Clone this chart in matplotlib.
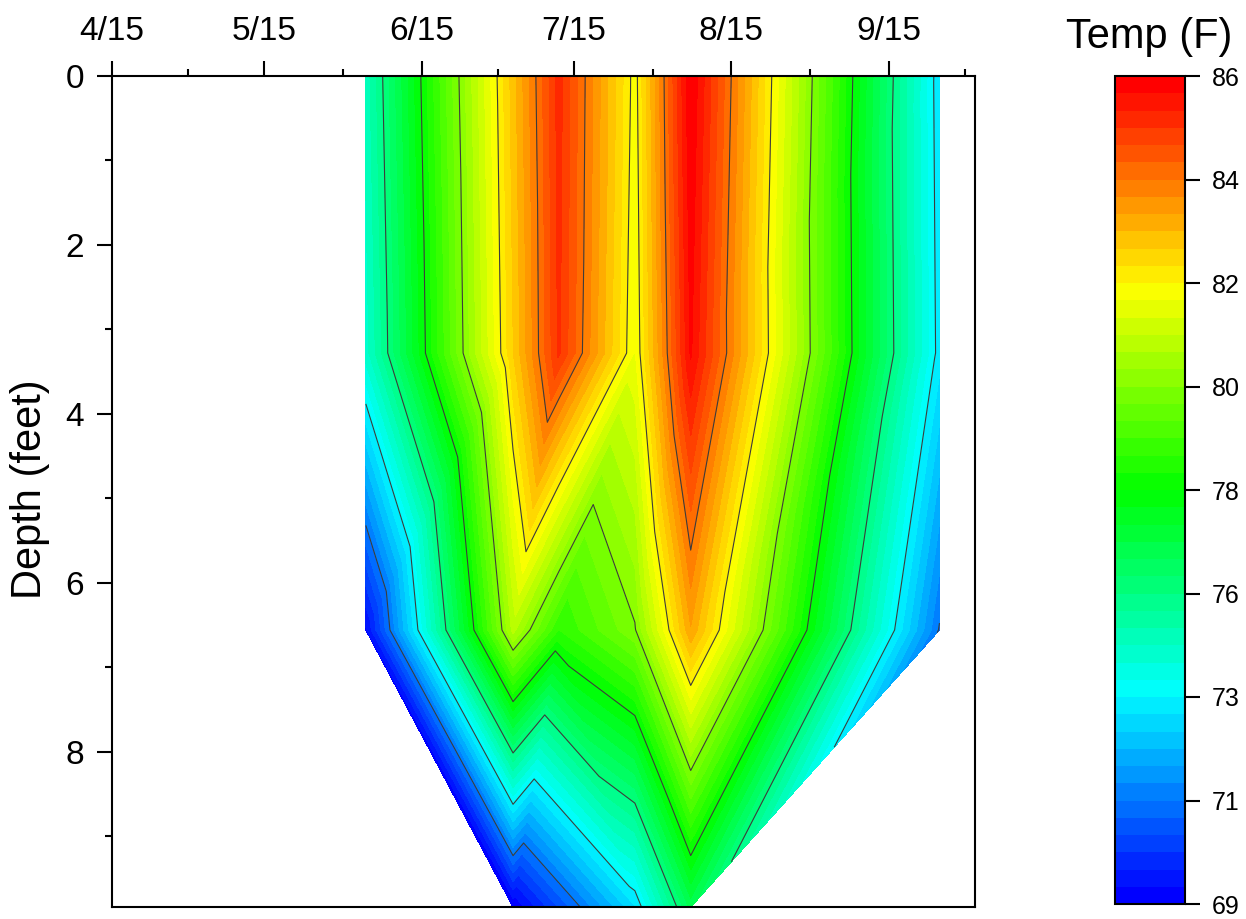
import datetime as dt

import numpy as np
import matplotlib
matplotlib.use("Agg")
import matplotlib.pyplot as plt
import matplotlib.tri as mtri
import matplotlib.dates as mdates
from matplotlib.colors import LinearSegmentedColormap
from matplotlib.ticker import FixedLocator, FuncFormatter, MultipleLocator

plt.rcParams['font.family'] = ['Liberation Sans', 'DejaVu Sans']

# profile dates and reading depths (1 m steps, in feet)
sample_dates = ['2021-06-04', '2021-07-03', '2021-07-12', '2021-07-27', '2021-08-07', '2021-09-25']
depths_ft = [0.0, 3.28, 6.56, 9.84]

# water temperature (F) per depth, one value per profile date (nan = no reading)
temp_0ft = [74.6, 82.9, 85.4, 81.8, 86.3, 73.1]
temp_3ft = [74.3, 82.7, 85.3, 81.6, 86.0, 73.2]
temp_6ft = [69.4, 80.7, 78.4, 79.8, 83.4, 71.2]
temp_9ft = [np.nan, 69.1, np.nan, 73.0, 76.4, np.nan]

tick_dates = ['2021-04-15', '2021-05-15', '2021-06-15', '2021-07-15', '2021-08-15', '2021-09-15', '2021-10-15']

date_nums = [mdates.date2num(dt.datetime.fromisoformat(d)) for d in sample_dates]
rows = [temp_0ft, temp_3ft, temp_6ft, temp_9ft]

xs, ys, zs, idx = [], [], [], {}
for r, (depth, row) in enumerate(zip(depths_ft, rows)):
    for c, (day, t) in enumerate(zip(date_nums, row)):
        if np.isnan(t):
            continue
        idx[(c, r)] = len(zs)
        xs.append(day)
        ys.append(depth)
        zs.append(t)
zs = np.array(zs)

# mesh cells as (column, row) corners
cells = []
for c in range(len(sample_dates) - 1):
    cells.append([(c, 0), (c + 1, 0), (c, 1)])
    cells.append([(c + 1, 0), (c + 1, 1), (c, 1)])
    cells.append([(c, 1), (c + 1, 1), (c, 2)])
    cells.append([(c + 1, 1), (c + 1, 2), (c, 2)])
# deepest readings only exist mid summer
cells += [[(0, 2), (1, 2), (1, 3)], [(1, 2), (2, 2), (1, 3)], [(2, 2), (1, 3), (3, 3)],
          [(2, 2), (3, 2), (3, 3)], [(3, 2), (3, 3), (4, 3)], [(3, 2), (4, 2), (4, 3)],
          [(4, 2), (5, 2), (4, 3)]]
triangles = [[idx[v] for v in cell] for cell in cells]
tri = mtri.Triangulation(xs, ys, triangles)

levels = np.linspace(zs.min(), zs.max(), 49)
cmap = LinearSegmentedColormap.from_list('temp', ['#0000ff', '#00ffff', '#00ff00', '#ffff00', '#ff0000'])
band_colors = cmap(np.linspace(0, 1, len(levels) - 1))

fig = plt.figure(figsize=(12.46, 9.19), dpi=100)
ax = fig.add_axes([112 / 1246, 12 / 919, 863 / 1246, 831 / 919])
cax = fig.add_axes([1115 / 1246, 15 / 919, 70 / 1246, 828 / 919])

cs = ax.tricontourf(tri, zs, levels=levels, colors=band_colors)
ax.tricontour(tri, zs, levels=levels[6:-1:6], colors='#3c3c3c', linewidths=0.8)

start = mdates.date2num(dt.datetime(2021, 4, 15))
ax.set_xlim(start, start + 170)
ax.set_ylim(9.84, 0)

tick_nums = [mdates.date2num(dt.datetime.fromisoformat(d)) for d in tick_dates]
ax.xaxis.set_major_locator(FixedLocator(tick_nums[:-1]))
ax.xaxis.set_minor_locator(FixedLocator([(a + b) / 2 for a, b in zip(tick_nums[:-1], tick_nums[1:])]))
ax.xaxis.set_major_formatter(FuncFormatter(lambda v, p: '{}/{}'.format(mdates.num2date(v).month, mdates.num2date(v).day)))
ax.yaxis.set_major_locator(MultipleLocator(2))
ax.yaxis.set_minor_locator(MultipleLocator(1))

ax.tick_params(axis='x', which='both', top=True, bottom=False, labeltop=True, labelbottom=False)
ax.tick_params(axis='y', which='both', left=True, right=False)
ax.tick_params(which='both', direction='out', width=1.5, labelsize=24)
ax.tick_params(which='major', length=11)
ax.tick_params(which='minor', length=5)
ax.tick_params(axis='x', pad=10)
ax.tick_params(axis='y', pad=9)
for s in ax.spines.values():
    s.set_linewidth(1.5)

ax.set_ylabel('Depth (feet)', fontsize=30)
ax.yaxis.set_label_coords(-0.072, 0.503)

cb = fig.colorbar(cs, cax=cax, ticks=levels[::6])
cb.ax.yaxis.set_major_formatter(FuncFormatter(lambda v, p: '{:.0f}'.format(v)))
cb.ax.minorticks_off()
cb.ax.tick_params(direction='out', length=11, width=1.5, labelsize=18, pad=8)
cb.outline.set_linewidth(1.5)

fig.text(1149 / 1246, 1 - 48 / 919, 'Temp (F)', fontsize=30, ha='center', va='baseline')

fig.savefig('out.png', dpi=100)
